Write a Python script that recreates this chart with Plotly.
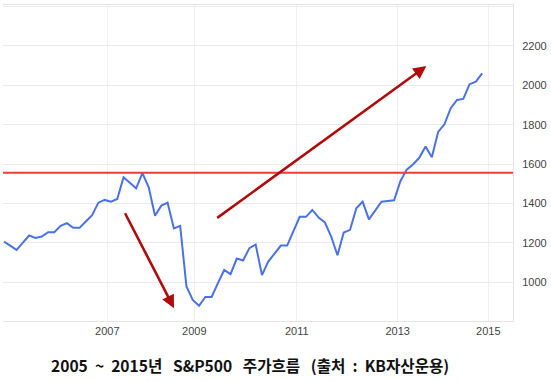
import plotly.graph_objects as go

# S&P500 samples (equally spaced observations, index based)
sp500 = [1206, 1185, 1164, 1201, 1237, 1225, 1232, 1254, 1254, 1286,
         1300, 1276, 1276, 1308, 1340, 1404, 1418, 1409, 1423, 1533,
         1506, 1477, 1554, 1482, 1338, 1389, 1404, 1273, 1286, 978,
         910, 880, 925, 925, 995, 1062, 1041, 1120, 1110, 1173,
         1191, 1036, 1105, 1147, 1186, 1186, 1261, 1332, 1332, 1367,
         1329, 1304, 1232, 1137, 1252, 1266, 1376, 1409, 1319, 1367,
         1409, 1413, 1416, 1513, 1572, 1598, 1632, 1689, 1635, 1763,
         1802, 1884, 1926, 1931, 2006, 2019, 2061]
obs_index = list(range(len(sp500)))

year_labels = ["2007", "2009", "2011", "2013", "2015"]
year_label_index = [16.42, 30.25, 46.53, 62.58, 76.98]

y_ticks = [1000, 1200, 1400, 1600, 1800, 2000, 2200, 2400]
y_ticktext = ["1000", "1200", "1400", "1600", "1800", "2000", "2200", ""]

reference_level = 1556

# arrows: (tail index, tail value) -> (tip index, tip value)
fall_arrow = [19.12, 1358, 27.02, 868]
rise_arrow = [33.65, 1321, 67.13, 2098]

title_parts = ["2005 ~ 2015년", "S&P500", "주가흐름", "(출처 : KB자산운용)"]

fig = go.Figure()
fig.add_trace(go.Scatter(
    x=obs_index, y=sp500, mode="lines",
    line=dict(color="#4a72e6", width=2),
    hoverinfo="skip", showlegend=False,
))

fig.add_shape(type="line", xref="paper", x0=0, x1=1, yref="y",
              y0=reference_level, y1=reference_level,
              line=dict(color="#f23a3a", width=2))

for a in (fall_arrow, rise_arrow):
    fig.add_annotation(
        x=a[2], y=a[3], ax=a[0], ay=a[1],
        xref="x", yref="y", axref="x", ayref="y",
        showarrow=True, arrowhead=2, arrowsize=1.0, arrowwidth=2.6,
        arrowcolor="#b00a0a", standoff=0, text="",
    )

parts = [p.replace(" ", "&nbsp;&nbsp;") for p in title_parts]
title_html = "<b>" + "&nbsp;&nbsp;&nbsp;".join(parts) + "</b>"
fig.add_annotation(
    x=(250 - 3) / 510, y=-(365 - 321) / 316, xref="paper", yref="paper",
    text=title_html, showarrow=False, xanchor="center", yanchor="middle",
    font=dict(family="Noto Sans CJK KR", size=15.6, color="#111111"),
)

fig.update_layout(
    width=551, height=381,
    margin=dict(l=3, r=38, t=5, b=60),
    paper_bgcolor="white", plot_bgcolor="white",
    font=dict(family="Arial, Liberation Sans, sans-serif", size=11, color="#444444"),
    xaxis=dict(
        range=[-0.16, 80.9], tickvals=year_label_index, ticktext=year_labels,
        showgrid=True, gridcolor="#f0f0f0", gridwidth=1, zeroline=False,
        showline=True, linecolor="#e4e4e4", linewidth=1, mirror=True,
        ticks="", tickfont=dict(size=11, color="#444444"),
    ),
    yaxis=dict(
        range=[803, 2408], side="right", tickvals=y_ticks, ticktext=y_ticktext,
        showgrid=True, gridcolor="#ebebeb", gridwidth=1, zeroline=False,
        showline=True, linecolor="#e4e4e4", linewidth=1,
        ticks="", ticklabelstandoff=6, tickfont=dict(size=11, color="#444444"),
    ),
)

fig.write_html("out.html")
